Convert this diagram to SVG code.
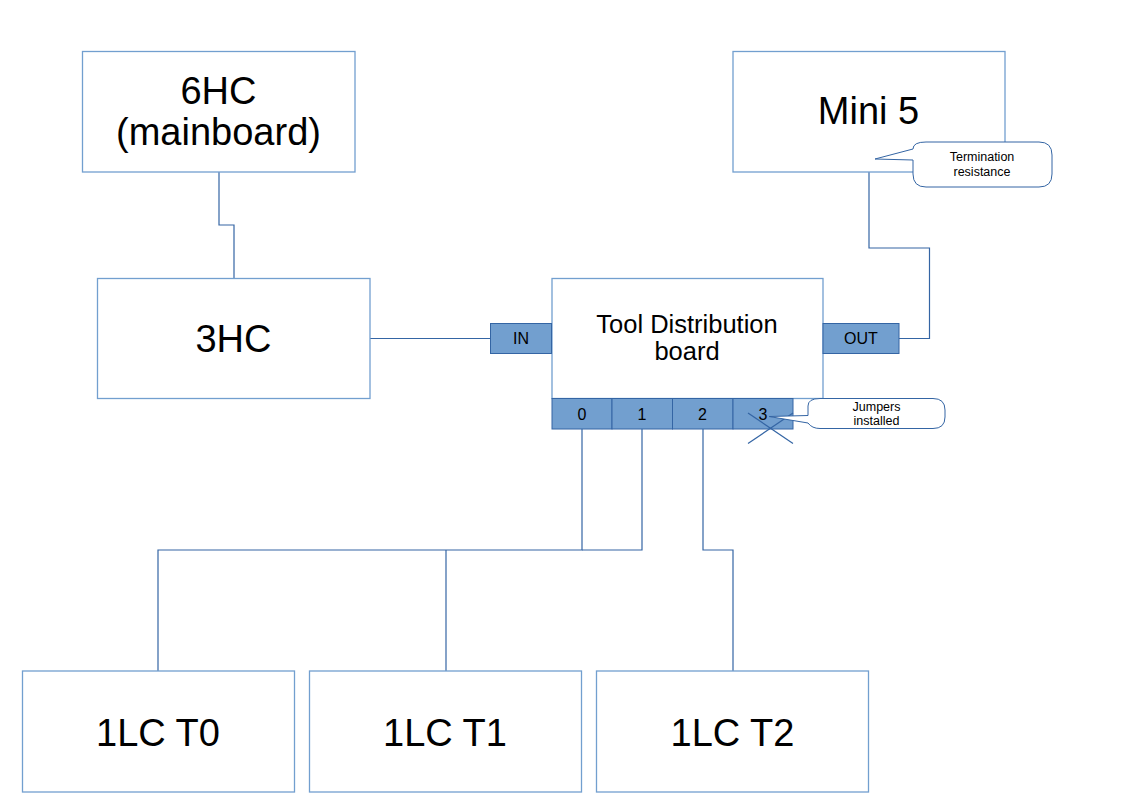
<svg xmlns="http://www.w3.org/2000/svg" width="1125" height="802" viewBox="0 0 1125 802">
<style>
.box{fill:#ffffff;stroke:#729fcf;stroke-width:1.3}
.port{fill:#729fcf;stroke:#3465a4;stroke-width:1}
.conn{fill:none;stroke:#3465a4;stroke-width:1.2}
.call{fill:#ffffff;stroke:#3465a4;stroke-width:1}
text{font-family:"Liberation Sans",Arial,sans-serif;fill:#000000;text-anchor:middle}
.big{font-size:38px}
.mid{font-size:25.5px}
.pt{font-size:16px}
.sm{font-size:12.5px}
</style>
<rect width="1125" height="802" fill="#ffffff"/>
<g id="connectors">
<polyline class="conn" points="219,172 219,225 234,225 234,278"/>
<polyline class="conn" points="370,338.5 490.5,338.5"/>
<polyline class="conn" points="869,172 869,248 929.5,248 929.5,338.5 899,338.5"/>
<polyline class="conn" points="582,429 582,550 158,550 158,671"/>
<polyline class="conn" points="642,429 642,550 582,550"/>
<polyline class="conn" points="446,550 446,671"/>
<polyline class="conn" points="703,429 703,550 733,550 733,671"/>
</g>
<g id="node-6hc">
<rect class="box" x="82.5" y="51.5" width="272.5" height="120.5"/>
<text class="big" x="218.5" y="104">6HC</text>
<text class="big" x="218.5" y="145">(mainboard)</text>
</g>
<g id="node-3hc">
<rect class="box" x="97.5" y="278.5" width="272.5" height="120"/>
<text class="big" x="233.5" y="352">3HC</text>
</g>
<g id="node-mini5">
<rect class="box" x="733" y="51.5" width="272" height="120.5"/>
<text class="big" x="868.5" y="124">Mini 5</text>
</g>
<g id="node-tdb">
<rect class="box" x="552" y="278.5" width="271" height="120"/>
<text class="mid" x="687" y="333">Tool Distribution</text>
<text class="mid" x="687" y="360">board</text>
</g>
<g id="port-in">
<rect class="port" x="490.5" y="323.5" width="61" height="30"/>
<text class="pt" x="521" y="344">IN</text>
</g>
<g id="port-out">
<rect class="port" x="823" y="323.5" width="76" height="30"/>
<text class="pt" x="861" y="344">OUT</text>
</g>
<g id="port-0">
<rect class="port" x="552" y="398.5" width="60" height="30.5"/>
<text class="pt" x="582" y="420">0</text>
</g>
<g id="port-1">
<rect class="port" x="612" y="398.5" width="60.5" height="30.5"/>
<text class="pt" x="642" y="420">1</text>
</g>
<g id="port-2">
<rect class="port" x="672.5" y="398.5" width="60.5" height="30.5"/>
<text class="pt" x="702.5" y="420">2</text>
</g>
<g id="port-3">
<rect class="port" x="733" y="398.5" width="60" height="30.5"/>
<text class="pt" x="763" y="420">3</text>
<line class="conn" x1="748" y1="413" x2="793" y2="443.5"/>
<line class="conn" x1="748" y1="443.5" x2="793" y2="413"/>
</g>
<g id="node-1lc-t0">
<rect class="box" x="22.5" y="671" width="272" height="121"/>
<text class="big" x="158" y="746">1LC T0</text>
</g>
<g id="node-1lc-t1">
<rect class="box" x="309.5" y="671" width="272" height="121"/>
<text class="big" x="445" y="746">1LC T1</text>
</g>
<g id="node-1lc-t2">
<rect class="box" x="596.5" y="671" width="272" height="121"/>
<text class="big" x="732.5" y="746">1LC T2</text>
</g>
<g id="callout-termination">
<path class="call" d="M875,159 L913,149 Q913,142 926,142 L1039,142 Q1052,142 1052,155 L1052,174 Q1052,187 1039,187 L926,187 Q913,187 913,174 L913,160 Z"/>
<text class="sm" x="982" y="161">Termination</text>
<text class="sm" x="982" y="176">resistance</text>
</g>
<g id="callout-jumpers">
<path class="call" d="M769,416.5 L808,415.5 L808,406 Q808,398.5 820,398.5 L933,398.5 Q945,398.5 945,410 L945,417 Q945,428.5 933,428.5 L820,428.5 Q812,428.5 808,423 Z"/>
<text class="sm" x="876.5" y="411">Jumpers</text>
<text class="sm" x="876.5" y="425">installed</text>
</g>
</svg>
